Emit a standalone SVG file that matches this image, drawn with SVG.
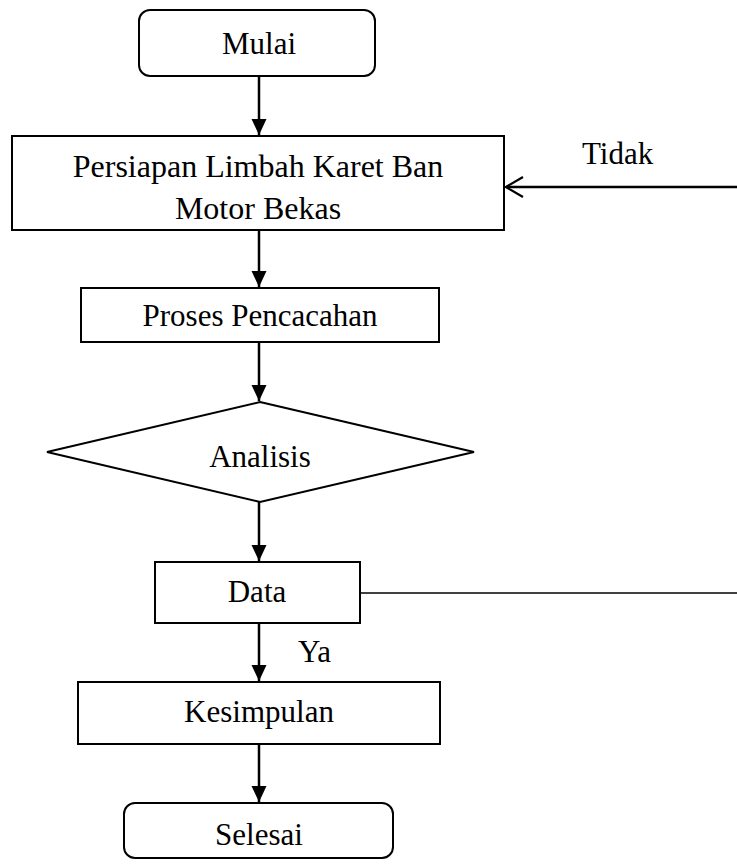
<svg xmlns="http://www.w3.org/2000/svg" width="737" height="866" viewBox="0 0 737 866">
<style>
.box{fill:#fff;stroke:#000;stroke-width:2}
.t{font-family:"Liberation Serif","Times New Roman",serif;font-size:31px;fill:#000;text-anchor:middle}
.lbl{font-family:"Liberation Serif","Times New Roman",serif;font-size:31px;fill:#000}
.c{fill:none;stroke:#000;stroke-width:2.5}
</style>
<defs>
<marker id="ah" markerWidth="16" markerHeight="16" viewBox="0 0 16 16" refX="16" refY="8" orient="auto" markerUnits="userSpaceOnUse">
<path d="M0,0.5 L16,8 L0,15.5 Z" fill="#000"/>
</marker>
</defs>
<g id="connectors">
<line class="c" x1="259" y1="76" x2="259" y2="135" marker-end="url(#ah)"/>
<line class="c" x1="259" y1="230" x2="259" y2="287" marker-end="url(#ah)"/>
<line class="c" x1="259" y1="342" x2="259" y2="401" marker-end="url(#ah)"/>
<line class="c" x1="259" y1="502" x2="259" y2="561" marker-end="url(#ah)"/>
<line class="c" x1="259" y1="623" x2="259" y2="681" marker-end="url(#ah)"/>
<line class="c" x1="259" y1="744" x2="259" y2="802" marker-end="url(#ah)"/>
<line x1="360" y1="593" x2="737" y2="593" stroke="#000" stroke-width="1.6"/>
<line class="c" x1="737" y1="187" x2="506" y2="187"/>
<polyline points="523,177 506,187 523,197" fill="none" stroke="#000" stroke-width="2.2"/>
<text class="lbl" x="582" y="164">Tidak</text>
<text class="lbl" x="298" y="662">Ya</text>
</g>
<g id="mulai">
<rect class="box" x="139" y="10" width="236" height="66" rx="11"/>
<text class="t" x="259" y="54">Mulai</text>
</g>
<g id="persiapan">
<rect class="box" x="12" y="136" width="492" height="94"/>
<text class="t" x="258" y="177" style="font-size:32px">Persiapan Limbah Karet Ban</text>
<text class="t" x="258" y="219" style="font-size:32px">Motor Bekas</text>
</g>
<g id="pencacahan">
<rect class="box" x="81" y="288" width="358" height="54"/>
<text class="t" x="260" y="326">Proses Pencacahan</text>
</g>
<g id="analisis">
<polygon class="box" points="260,402 474,452 260,502 47,452"/>
<text class="t" x="260" y="467">Analisis</text>
</g>
<g id="data">
<rect class="box" x="155" y="562" width="205" height="61"/>
<text class="t" x="257" y="602">Data</text>
</g>
<g id="kesimpulan">
<rect class="box" x="78" y="682" width="362" height="62"/>
<text class="t" x="259" y="722">Kesimpulan</text>
</g>
<g id="selesai">
<rect class="box" x="124" y="803" width="269" height="55" rx="11"/>
<text class="t" x="259" y="845">Selesai</text>
</g>
</svg>
